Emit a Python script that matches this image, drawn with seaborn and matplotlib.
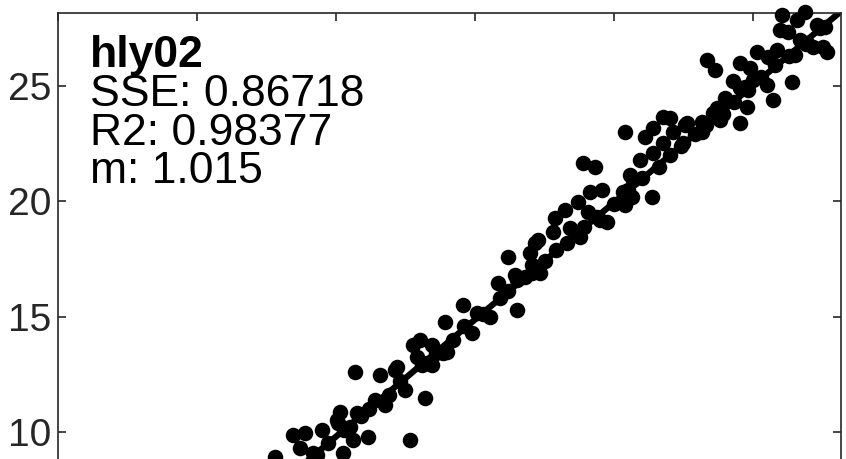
import numpy as np
import pandas as pd
import matplotlib
matplotlib.use("Agg")
import matplotlib.pyplot as plt
import seaborn as sns

x_vals = [7.81, 8.45, 8.71, 8.88, 9.17, 9.32, 9.50, 10.04, 10.14, 10.07,
          10.25, 10.50, 10.61, 10.68, 10.76, 11.15, 11.40, 11.58, 11.76, 12.12,
          12.19, 12.48, 12.66, 12.77, 12.91, 13.02, 13.20, 13.27, 13.45, 13.45,
          13.85, 13.92, 13.99, 14.57, 14.89, 15.07, 15.54, 15.83, 16.19, 16.44,
          16.51, 16.51, 16.98, 17.05, 17.05, 17.16, 17.34, 17.27, 17.81, 17.88,
          18.24, 18.42, 18.71, 18.78, 18.88, 19.06, 19.14, 19.32, 19.50, 19.57,
          19.75, 20.32, 20.40, 20.40, 20.65, 20.68, 20.58, 20.94, 21.12, 21.37,
          21.40, 21.40, 21.76, 21.76, 22.01, 22.12, 22.48, 22.55, 22.63, 23.17,
          23.17, 23.35, 23.63, 23.56, 23.71, 23.81, 23.99, 24.28, 24.53, 24.53,
          24.53, 24.71, 24.78, 24.89, 25.00, 25.14, 25.50, 25.54, 25.72, 25.86,
          25.97, 26.04, 26.26, 26.40, 26.51, 26.58, 26.69, 26.87, 26.94, 27.16,
          27.30, 27.52, 27.59, 27.66,
          9.70, 10.30, 10.90, 11.20, 11.90, 12.30, 13.10, 13.60, 14.20, 14.60,
          15.30, 15.90, 16.20, 16.80, 17.50, 17.90, 18.30, 18.90, 19.40, 20.00,
          20.50, 21.00, 21.60, 22.00, 22.40, 22.90, 23.30, 23.90, 24.30, 24.80,
          25.30, 25.80, 26.30, 26.90, 27.40]
y_vals = [8.92, 9.87, 9.31, 9.96, 9.09, 9.00, 10.09, 10.52, 10.87, 10.39,
          9.09, 10.22, 9.65, 12.60, 10.82, 9.78, 11.39, 12.47, 11.17, 12.69,
          12.82, 11.82, 9.65, 13.77, 13.25, 13.99, 11.47, 12.99, 13.77, 12.90,
          13.42, 14.77, 13.47, 15.50, 14.29, 15.16, 14.98, 16.46, 17.59, 16.81,
          16.59, 15.29, 17.76, 17.24, 16.89, 18.19, 16.89, 18.32, 18.67, 19.28,
          19.62, 18.84, 19.97, 18.45, 21.66, 19.54, 20.41, 21.49, 19.19, 20.49,
          19.10, 20.40, 19.84, 23.00, 20.19, 20.93, 21.14, 21.79, 22.79, 20.19,
          22.09, 23.18, 23.65, 22.53, 23.61, 23.00, 22.53, 23.31, 23.39, 23.44,
          23.00, 26.13, 25.70, 23.83, 24.04, 23.52, 24.48, 25.22, 26.00, 24.91,
          23.39, 24.95, 24.09, 25.79, 25.26, 26.47, 25.04, 26.26, 24.39, 26.56,
          27.43, 28.08, 27.34, 25.17, 26.34, 27.86, 26.99, 28.20, 26.86, 26.69,
          27.64, 26.69, 27.56, 26.47,
          9.50, 10.10, 10.70, 11.00, 11.60, 12.20, 12.90, 13.40, 14.00, 14.60,
          15.10, 15.80, 16.10, 16.70, 17.40, 17.90, 18.20, 18.90, 19.30, 19.90,
          20.50, 21.00, 21.50, 22.00, 22.40, 22.90, 23.30, 23.80, 24.30, 24.80,
          25.40, 25.90, 26.30, 26.80, 27.50]

label = "hly02"
sse = 0.86718
r2 = 0.98377
fit_slope = 1.015
fit_intercept = -0.35

ax_min, ax_max = 0, 28.16
x_ticks = [0, 5, 10, 15, 20, 25]
y_ticks = [10, 15, 20, 25]

df = pd.DataFrame({"x": x_vals, "y": y_vals})
fit_x = np.array([ax_min, ax_max])
fit = pd.DataFrame({"x": fit_x, "y": fit_slope * fit_x + fit_intercept})

sns.set_style("white")
plt.rcParams["font.family"] = ["Liberation Sans", "DejaVu Sans"]

fig = plt.figure(figsize=(8.46, 4.59), dpi=100)
# the original is cropped: only the upper part of the axes is visible
ax = fig.add_axes([0.0686, -0.4437, 0.9255, 1.4155])

sns.lineplot(data=fit, x="x", y="y", ax=ax, color="black", linewidth=4.5)
sns.scatterplot(data=df, x="x", y="y", ax=ax, color="black", s=125,
                linewidth=0, clip_on=False, zorder=3)

ax.set_xlim(ax_min, ax_max)
ax.set_ylim(ax_min, ax_max)
ax.set_xticks(x_ticks)
ax.set_yticks(y_ticks)
ax.set_xlabel("")
ax.set_ylabel("")
ax.tick_params(direction="in", length=6, width=1.2, color="#262626",
               labelsize=28, labelcolor="#262626", top=True, right=True,
               left=True, bottom=True, labelbottom=False, pad=5)
for s in ax.spines.values():
    s.set_color("#262626")
    s.set_linewidth(1.2)
    s.set_visible(True)

txt = dict(fontsize=32, va="baseline", color="black")
ax.text(1.15, 25.82, label, fontweight="bold", **txt)
ax.text(1.15, 24.13, f"SSE: {sse:.5f}", **txt)
ax.text(1.15, 22.44, f"R2: {r2:.5f}", **txt)
ax.text(1.15, 20.79, f"m: {fit_slope:.3f}", **txt)

fig.savefig("out.png", dpi=100)
